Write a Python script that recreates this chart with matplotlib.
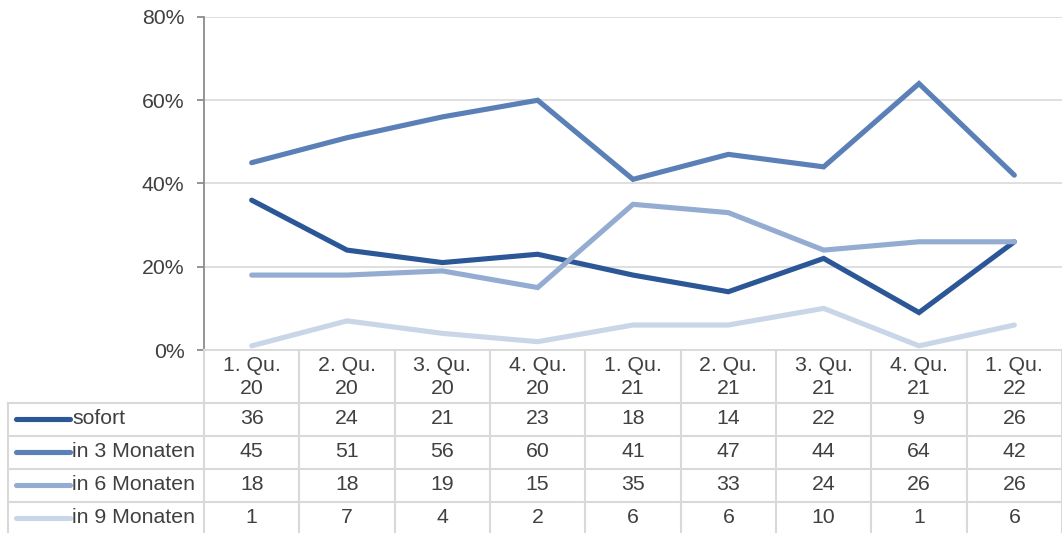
import numpy as np
import matplotlib.pyplot as plt
from matplotlib.lines import Line2D

quarters = ["1. Qu.\n20", "2. Qu.\n20", "3. Qu.\n20", "4. Qu.\n20", "1. Qu.\n21",
            "2. Qu.\n21", "3. Qu.\n21", "4. Qu.\n21", "1. Qu.\n22"]
series_names = ["sofort", "in 3 Monaten", "in 6 Monaten", "in 9 Monaten"]
sofort = [36, 24, 21, 23, 18, 14, 22, 9, 26]
in3 = [45, 51, 56, 60, 41, 47, 44, 64, 42]
in6 = [18, 18, 19, 15, 35, 33, 24, 26, 26]
in9 = [1, 7, 4, 2, 6, 6, 10, 1, 6]
colors = ["#2b5797", "#5b80b7", "#94acd1", "#c9d6e8"]

W, H = 1062, 533
FS = 15.3
TXT = '#404040'
plt.rcParams['font.family'] = ['Liberation Sans', 'DejaVu Sans']
fig = plt.figure(figsize=(W / 100, H / 100), dpi=100)

x0, x1 = 204, 1062
ytop, ybot = 17, 350
ax = fig.add_axes([x0 / W, 1 - ybot / H, (x1 - x0) / W, (ybot - ytop) / H])

n = len(quarters)
xs = np.arange(n)
data = [sofort, in3, in6, in9]
for vals, c in zip(data, colors):
    ax.plot(xs, vals, color=c, lw=3.7, solid_capstyle='round', solid_joinstyle='miter', zorder=3)

ax.set_xlim(-0.5, n - 0.5)
ax.set_ylim(0, 80)
ax.set_yticks([0, 20, 40, 60, 80])
ax.set_yticklabels(["0%", "20%", "40%", "60%", "80%"], fontsize=FS, color=TXT)
ax.set_xticks([])
ax.grid(axis='y', color='#d9d9d9', lw=1.2)
ax.set_axisbelow(True)
for s in ['top', 'right']:
    ax.spines[s].set_visible(False)
ax.spines['left'].set_color('#8c8c8c')
ax.spines['left'].set_linewidth(1.3)
ax.spines['bottom'].set_color('#d9d9d9')
ax.spines['bottom'].set_linewidth(1.3)
ax.tick_params(axis='y', length=5, color='#8c8c8c', width=1.3, pad=9)

# data table below the plot, in pixel coordinates
def fx(px):
    return px / W

def fy(py):
    return 1 - py / H

grid_c = '#d9d9d9'
cw = (x1 - x0) / n
row_edges = [403, 436, 469, 502, 535]
# vertical lines
for i in range(n + 1):
    xp = x0 + i * cw
    fig.add_artist(Line2D([fx(xp), fx(xp)], [fy(ybot), fy(H)], color=grid_c, lw=1.5))
fig.add_artist(Line2D([fx(8), fx(8)], [fy(403), fy(H)], color=grid_c, lw=1.5))
for yp in row_edges[:-1]:
    fig.add_artist(Line2D([fx(8), fx(x1)], [fy(yp), fy(yp)], color=grid_c, lw=1.5))

# header
for i, q in enumerate(quarters):
    fig.text(fx(x0 + (i + 0.5) * cw), fy(377), q, ha='center', va='center',
             fontsize=FS, color=TXT, linespacing=1.3)

# rows
for r, (name, vals, c) in enumerate(zip(series_names, data, colors)):
    yc = (row_edges[r] + row_edges[r + 1]) / 2 - 1
    fig.add_artist(Line2D([fx(16), fx(70)], [fy(yc), fy(yc)], color=c, lw=3.7,
                          solid_capstyle='round'))
    fig.text(fx(72), fy(yc), name, ha='left', va='center', fontsize=FS, color=TXT)
    for i, v in enumerate(vals):
        fig.text(fx(x0 + (i + 0.5) * cw), fy(yc), str(v), ha='center', va='center',
                 fontsize=FS, color=TXT)

fig.savefig('out.png', dpi=100)
